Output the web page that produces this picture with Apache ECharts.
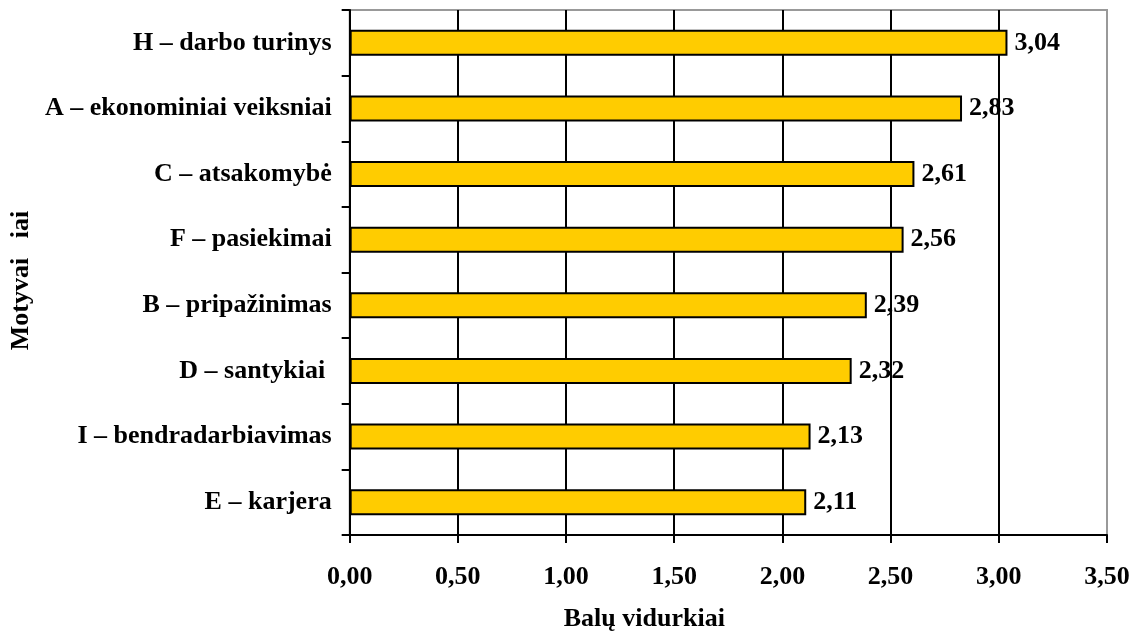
<!DOCTYPE html>
<html>
<head>
<meta charset="utf-8">
<script src="https://cdn.jsdelivr.net/npm/echarts@6/dist/echarts.min.js"></script>
<style>
html, body { margin: 0; padding: 0; background: #fff; }
#chart { width: 1137px; height: 637px; }
</style>
</head>
<body>
<div id="chart"></div>
<script>
var categories = ['H – darbo turinys', 'A – ekonominiai veiksniai', 'C – atsakomybė', 'F – pasiekimai',
    'B – pripažinimas', 'D – santykiai ', 'I – bendradarbiavimas', 'E – karjera'];
var values = [3.04, 2.83, 2.61, 2.56, 2.39, 2.32, 2.13, 2.11];
var xTicks = [0, 0.5, 1, 1.5, 2, 2.5, 3, 3.5];

var font = "'Liberation Serif', 'Times New Roman', serif";
var fs = 26;
function fmt(v) { return v.toFixed(2).replace('.', ','); }

var myChart = echarts.init(document.getElementById('chart'));
var option = {
    animation: false,
    grid: {
        left: 349,
        right: 30,
        top: 10,
        bottom: 100,
        show: true,
        borderColor: '#999',
        borderWidth: 2
    },
    xAxis: {
        type: 'value',
        min: xTicks[0],
        max: xTicks[xTicks.length - 1],
        interval: 0.5,
        name: 'Balų vidurkiai',
        nameLocation: 'middle',
        nameGap: 71,
        nameTextStyle: {fontFamily: font, fontWeight: 'bold', fontSize: fs, color: '#000', padding: [0, 168, 0, 0]},
        axisLine: {show: true, lineStyle: {color: '#000', width: 2}},
        axisTick: {show: true, length: 8, lineStyle: {color: '#000', width: 2}},
        axisLabel: {
            margin: 29,
            fontFamily: font, fontWeight: 'bold', fontSize: fs, color: '#000',
            formatter: function (v) { return fmt(v); }
        },
        splitLine: {
            show: true,
            lineStyle: {color: ['#000', '#000', '#000', '#000', '#000', '#000', '#000', '#999'], width: 2}
        }
    },
    yAxis: {
        type: 'category',
        data: categories,
        inverse: true,
        name: 'Motyvai   iai',
        nameLocation: 'middle',
        nameGap: 312,
        nameRotate: 90,
        nameTextStyle: {fontFamily: font, fontWeight: 'bold', fontSize: fs, color: '#000', padding: [0, 16, 0, 0]},
        axisLine: {show: true, lineStyle: {color: '#000', width: 2}},
        axisTick: {show: true, length: 8, lineStyle: {color: '#000', width: 2}},
        axisLabel: {margin: 18, fontFamily: font, fontWeight: 'bold', fontSize: fs, color: '#000'},
        splitLine: {show: false}
    },
    series: [{
        type: 'bar',
        data: values,
        barWidth: 26,
        itemStyle: {color: '#FFCC00', borderColor: '#000', borderWidth: 2},
        label: {
            show: true,
            position: 'right',
            distance: 7,
            fontFamily: font, fontWeight: 'bold', fontSize: fs, color: '#000',
            formatter: function (p) { return fmt(p.value); }
        }
    }]
};
myChart.setOption(option);
</script>
</body>
</html>
